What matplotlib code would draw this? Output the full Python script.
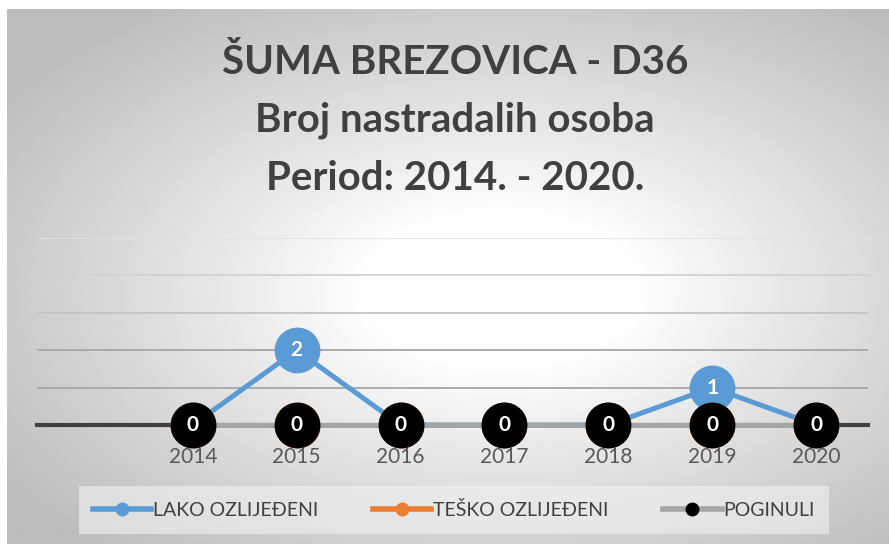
import numpy as np
import matplotlib
matplotlib.use("Agg")
import matplotlib.pyplot as plt
from matplotlib.lines import Line2D

years = ["2014", "2015", "2016", "2017", "2018", "2019", "2020"]
lako = [0, 2, 0, 0, 0, 1, 0]
tesko = [0, 0, 0, 0, 0, 0, 0]
poginuli = [0, 0, 0, 0, 0, 0, 0]
series_names = ["LAKO OZLIJEĐENI", "TEŠKO OZLIJEĐENI", "POGINULI"]
title_lines = ["ŠUMA BREZOVICA - D36", "Broj nastradalih osoba", "Period: 2014. - 2020."]

W, H = 889, 544
plt.rcParams["font.family"] = ["Lato", "DejaVu Sans"]
fig = plt.figure(figsize=(W / 100, H / 100), dpi=100)
fig.patch.set_facecolor("white")

# radial gradient background (white centre, grey edges)
bg = fig.add_axes([7 / W, 0, (W - 7) / W, (H - 9) / H])
gx, gy = np.meshgrid(np.linspace(-1, 1, 400), np.linspace(1, -1, 250))
r = np.sqrt(((gx - 0.12) / 1.05) ** 2 + ((gy + 0.05) / 1.0) ** 2)
shade = np.clip(1.0 - 0.26 * np.clip(r - 0.3, 0, None) ** 0.9, 0.74, 1.0)
bg.imshow(shade, cmap="gray", vmin=0, vmax=1, aspect="auto", extent=(0, 1, 0, 1))
bg.set_axis_off()

# plot area
ax = fig.add_axes([37 / W, 1 - 425 / H, (868 - 37) / W, (425 - 238) / H])
ax.patch.set_alpha(0)
x = np.arange(len(years))
ax.set_xlim(-1.5, 6.5)
ax.set_ylim(0, 5)

grid_cols = ["#a6a6a6", "#a6a6a6", "#c4c4c4", "#d2d2d2", "#e2e2e2"]
for lvl, c in zip(range(1, 6), grid_cols):
    ax.axhline(lvl, color=c, lw=1.3, zorder=1)
ax.axhline(0, color="#404040", lw=3.0, zorder=1.5, clip_on=False)

ms = 32
ax.plot(x, lako, color="#5b9bd5", lw=3.6, marker="o", ms=ms, mec="#5b9bd5",
        zorder=2, clip_on=False)
for xi, v in zip(x, lako):
    ax.text(xi, v, str(v), ha="center", va="center", color="white",
            fontsize=15, fontweight="bold", zorder=2.1)
ax.plot(x, tesko, color="#ed7d31", lw=3.6, marker="o", ms=ms, mec="#ed7d31",
        zorder=3, clip_on=False)
ax.plot(x, poginuli, color="#a5a5a5", lw=3.6, marker="o", ms=ms,
        mfc="black", mec="black", zorder=4, clip_on=False)
for xi, v in zip(x, poginuli):
    ax.text(xi, v, str(v), ha="center", va="center", color="white",
            fontsize=15, fontweight="bold", zorder=4.1)

ax.set_xticks(x)
ax.set_xticklabels(years, fontsize=15, color="#595959")
ax.tick_params(axis="x", length=0, pad=16)
ax.set_yticks([])
for s in ax.spines.values():
    s.set_visible(False)

# title
for i, t in enumerate(title_lines):
    fig.text(455 / W, 1 - (62 + 58 * i) / H, t, ha="center", va="center",
             fontsize=29, fontweight="bold", color="#404040")

# legend
handles = [
    Line2D([], [], color="#5b9bd5", lw=4, marker="o", ms=9, mec="#5b9bd5"),
    Line2D([], [], color="#ed7d31", lw=4, marker="o", ms=9, mec="#ed7d31"),
    Line2D([], [], color="#a5a5a5", lw=4, marker="o", ms=9, mfc="black", mec="black"),
]
leg = fig.legend(handles, series_names, loc="center", bbox_to_anchor=(454 / W, 1 - 510 / H),
                 ncol=3, frameon=True, fontsize=14, handlelength=3.0, handletextpad=0.1,
                 columnspacing=2.8, borderpad=0.75, borderaxespad=0, fancybox=False)
leg.get_frame().set_facecolor("#f2f2f2")
leg.get_frame().set_alpha(0.6)
leg.get_frame().set_edgecolor("none")
for t in leg.get_texts():
    t.set_color("#404040")

fig.savefig("out.png", dpi=100)
